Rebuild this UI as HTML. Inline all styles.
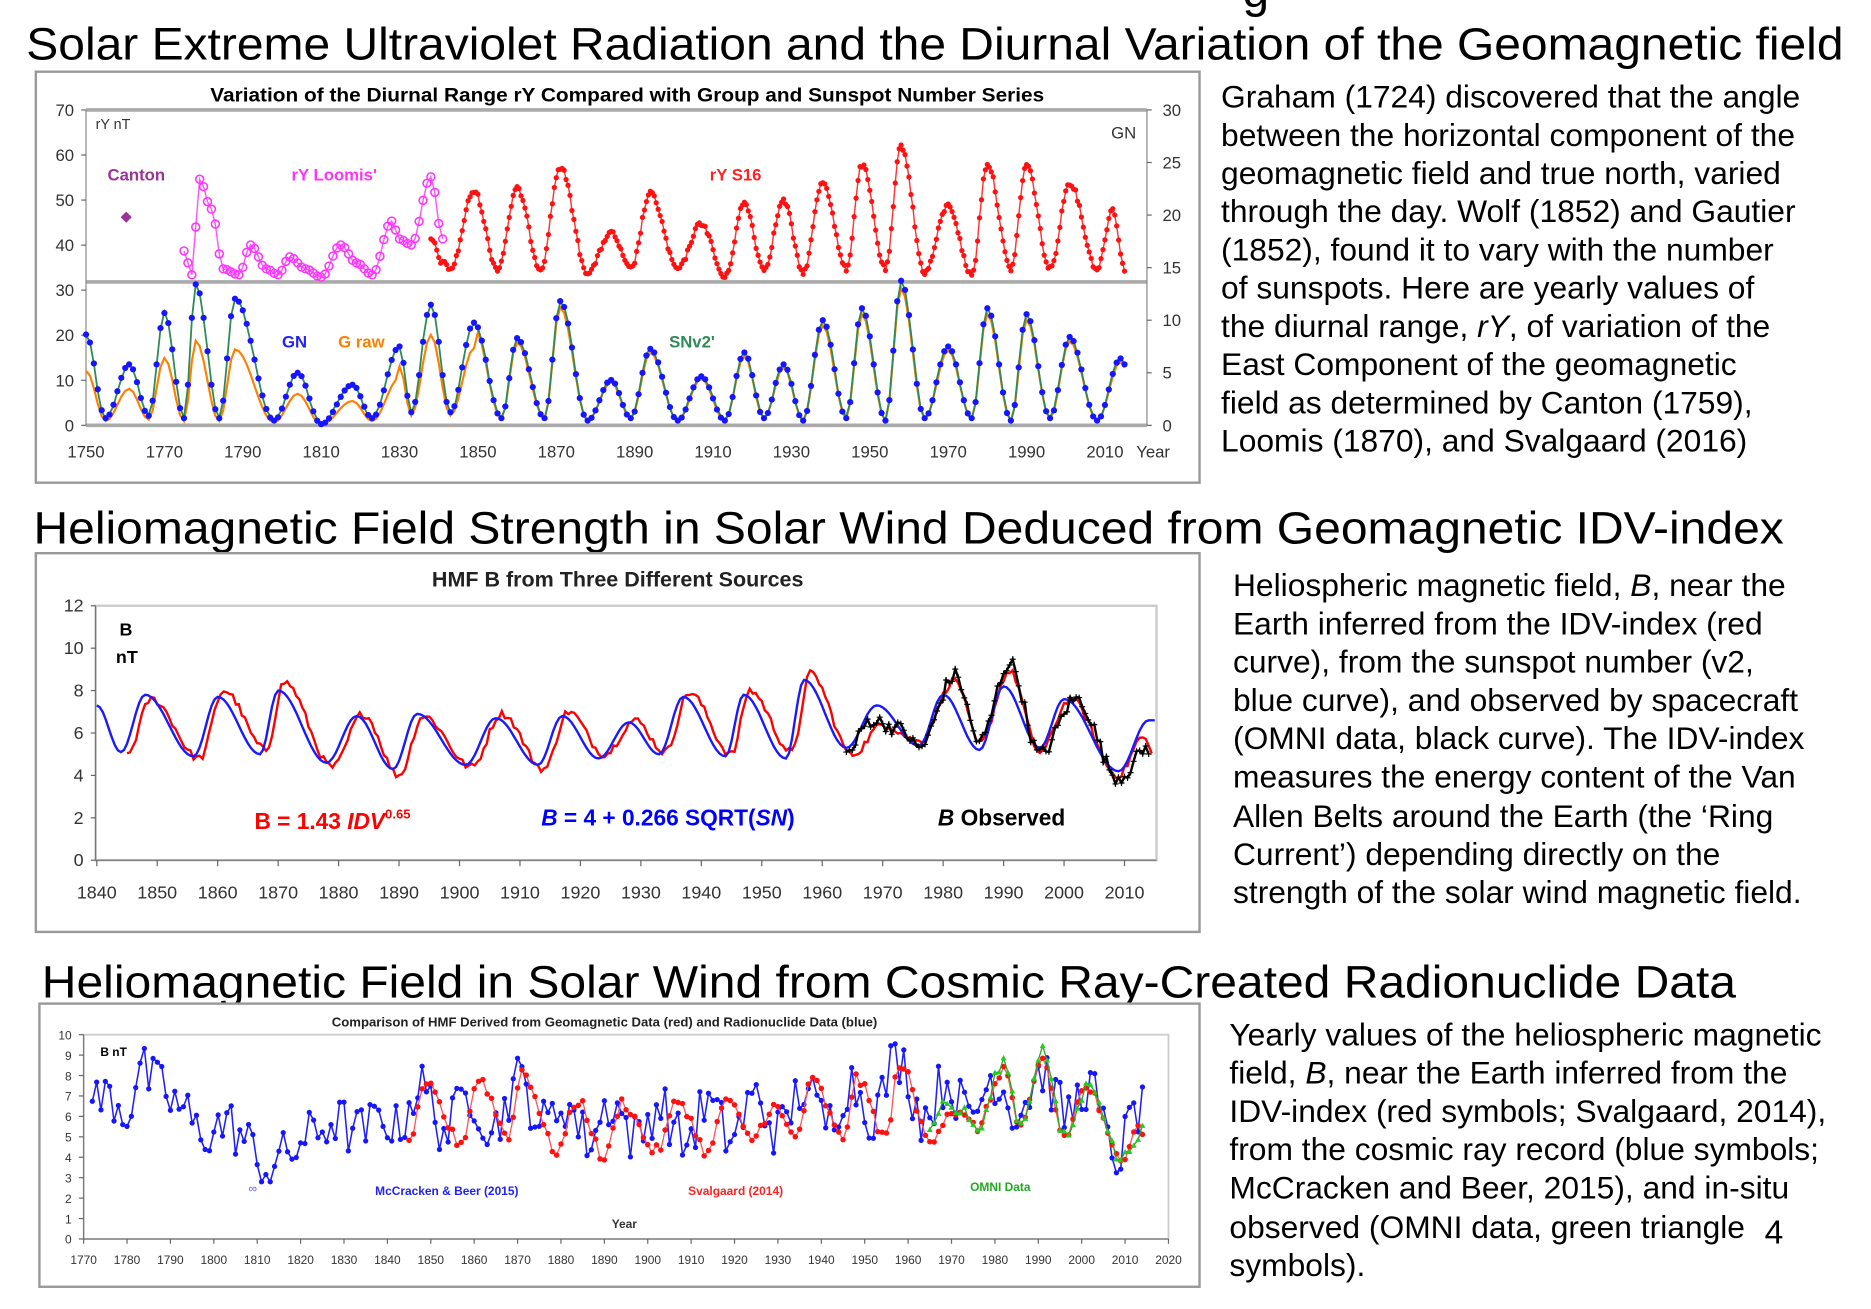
<!DOCTYPE html>
<html><head><meta charset="utf-8">
<style>
html,body{margin:0;padding:0;background:#fff;}
svg{display:block;font-family:"Liberation Sans",Arial,sans-serif;}
</style></head>
<body>
<svg id="s" width="1871" height="1309" viewBox="0 0 1566 1095.6" xmlns="http://www.w3.org/2000/svg">
<rect width="1566" height="1096" fill="#fff"/>
<text x="1040" y="6" font-size="40" fill="#000">g</text>
<text x="22" y="50" font-size="38" textLength="1521" lengthAdjust="spacingAndGlyphs">Solar Extreme Ultraviolet Radiation and the Diurnal Variation of the Geomagnetic field</text>
<text x="28" y="455" font-size="38" textLength="1465" lengthAdjust="spacingAndGlyphs">Heliomagnetic Field Strength in Solar Wind Deduced from Geomagnetic IDV-index</text>
<text x="35" y="835" font-size="38" textLength="1418" lengthAdjust="spacingAndGlyphs">Heliomagnetic Field in Solar Wind from Cosmic Ray-Created Radionuclide Data</text>

<g font-size="26.6" fill="#000">
<text x="1022" y="90">Graham (1724) discovered that the angle</text>
<text x="1022" y="122">between the horizontal component of the</text>
<text x="1022" y="154">geomagnetic field and true north, varied</text>
<text x="1022" y="186">through the day. Wolf (1852) and Gautier</text>
<text x="1022" y="218">(1852), found it to vary with the number</text>
<text x="1022" y="250">of sunspots. Here are yearly values of</text>
<text x="1022" y="282">the diurnal range, <tspan font-style="italic">rY</tspan>, of variation of the</text>
<text x="1022" y="314">East Component of the geomagnetic</text>
<text x="1022" y="346">field as determined by Canton (1759),</text>
<text x="1022" y="378">Loomis (1870), and Svalgaard (2016)</text>

<text x="1032" y="499">Heliospheric magnetic field, <tspan font-style="italic">B</tspan>, near the</text>
<text x="1032" y="531">Earth inferred from the IDV-index (red</text>
<text x="1032" y="563">curve), from the sunspot number (v2,</text>
<text x="1032" y="595">blue curve), and observed by spacecraft</text>
<text x="1032" y="627">(OMNI data, black curve). The IDV-index</text>
<text x="1032" y="659">measures the energy content of the Van</text>
<text x="1032" y="692">Allen Belts around the Earth (the ‘Ring</text>
<text x="1032" y="724">Current’) depending directly on the</text>
<text x="1032" y="756">strength of the solar wind magnetic field.</text>

<text x="1029" y="875">Yearly values of the heliospheric magnetic</text>
<text x="1029" y="907">field, <tspan font-style="italic">B</tspan>, near the Earth inferred from the</text>
<text x="1029" y="939">IDV-index (red symbols; Svalgaard, 2014),</text>
<text x="1029" y="971">from the cosmic ray record (blue symbols;</text>
<text x="1029" y="1003">McCracken and Beer, 2015), and in-situ</text>
<text x="1029" y="1036">observed (OMNI data, green triangle</text>
<text x="1029" y="1068">symbols).</text>
<text x="1477" y="1041" font-size="28">4</text>
</g>

<rect x="30" y="60" width="974" height="344" fill="#fff" stroke="#999" stroke-width="2"/>
<rect x="30" y="463" width="974" height="317" fill="#fff" stroke="#999" stroke-width="2"/>
<rect x="33" y="840" width="971" height="237" fill="#fff" stroke="#999" stroke-width="2"/>

<text x="525" y="85" font-size="16" font-weight="bold" text-anchor="middle" textLength="698" lengthAdjust="spacingAndGlyphs">Variation of the Diurnal Range rY Compared with Group and Sunspot Number Series</text>
<line x1="72" y1="92" x2="960" y2="92" stroke="#aaa" stroke-width="3"/>
<line x1="72" y1="236" x2="960" y2="236" stroke="#aaa" stroke-width="3"/>
<line x1="72" y1="356" x2="960" y2="356" stroke="#aaa" stroke-width="3"/>
<line x1="72" y1="92" x2="72" y2="356" stroke="#888"/>
<line x1="960" y1="92" x2="960" y2="356" stroke="#888"/>
<g id="c1ticks" font-size="14" fill="#333"></g>
<text x="80" y="108" font-size="12" fill="#333">rY nT</text>
<text x="930" y="116" font-size="14" fill="#333">GN</text>
<text x="90" y="151" font-size="14" font-weight="bold" fill="#993399">Canton</text>
<text x="244" y="151" font-size="14" font-weight="bold" fill="#ff33ff">rY Loomis'</text>
<text x="594" y="151" font-size="14" font-weight="bold" fill="#ff2222">rY S16</text>
<text x="236" y="291" font-size="14" font-weight="bold" fill="#2222ff">GN</text>
<text x="283" y="291" font-size="14" font-weight="bold" fill="#ff7f00">G raw</text>
<text x="560" y="291" font-size="14" font-weight="bold" fill="#2e8b57">SNv2'</text>
<text x="951" y="383" font-size="14" fill="#333">Year</text>
<g id="c1"></g>

<text x="517" y="491" font-size="18" font-weight="bold" text-anchor="middle" fill="#222">HMF B from Three Different Sources</text>
<rect x="80" y="507" width="888" height="213" fill="none" stroke="#ccc" stroke-width="2"/>
<line x1="80" y1="507" x2="80" y2="720" stroke="#777"/>
<line x1="80" y1="720" x2="968" y2="720" stroke="#777"/>
<g id="c2ticks" font-size="15" fill="#333"></g>
<text x="100" y="532" font-size="15" font-weight="bold">B</text>
<text x="97" y="555" font-size="15" font-weight="bold">nT</text>
<text x="213" y="694" font-size="19" font-weight="bold" fill="#ff0000">B = 1.43 <tspan font-style="italic">IDV</tspan><tspan font-size="11" dy="-9">0.65</tspan></text>
<text x="453" y="691" font-size="19" font-weight="bold" fill="#0000ff"><tspan font-style="italic">B</tspan> = 4 + 0.266 SQRT(<tspan font-style="italic">SN</tspan>)</text>
<text x="785" y="691" font-size="19" font-weight="bold" fill="#000"><tspan font-style="italic">B</tspan> Observed</text>
<g id="c2"></g>

<text x="506" y="859" font-size="11" font-weight="bold" text-anchor="middle" fill="#222">Comparison of HMF Derived from Geomagnetic Data (red) and Radionuclide Data (blue)</text>
<rect x="70" y="866" width="908" height="171" fill="none" stroke="#ccc" stroke-width="1.5"/>
<line x1="70" y1="866" x2="70" y2="1037" stroke="#777"/>
<line x1="70" y1="1037" x2="978" y2="1037" stroke="#777"/>
<g id="c3ticks" font-size="10" fill="#333"></g>
<text x="84" y="884" font-size="10" font-weight="bold">B nT</text>
<text x="314" y="1000" font-size="10" font-weight="bold" fill="#2222ff">McCracken &amp; Beer (2015)</text>
<text x="576" y="1000" font-size="10" font-weight="bold" fill="#ff2222">Svalgaard (2014)</text>
<text x="812" y="997" font-size="10" font-weight="bold" fill="#22aa22">OMNI Data</text>
<text x="512" y="1028" font-size="10" font-weight="bold" fill="#333">Year</text>
<text x="208" y="998" font-size="10" fill="#66f">∞</text>
<g id="c3"></g>
</svg>
<script>
var NS="http://www.w3.org/2000/svg";
function el(p,t,a,txt){var e=document.createElementNS(NS,t);for(var k in a)e.setAttribute(k,a[k]);if(txt!==undefined)e.textContent=txt;document.getElementById(p).appendChild(e);return e;}
var seed=12345;function rnd(){seed=(seed*1103515245+12345)%2147483648;return seed/2147483648;}
function interp(kn,t){if(t<=kn[0][0])return kn[0][1];for(var i=0;i<kn.length-1;i++){var a=kn[i],b=kn[i+1];if(t>=a[0]&&t<=b[0]){var f=(t-a[0])/(b[0]-a[0]);f=(1-Math.cos(Math.PI*f))/2;return a[1]+(b[1]-a[1])*f;}}return kn[kn.length-1][1];}
function path(pts){return pts.map(function(p,i){return (i?"L":"M")+p[0].toFixed(1)+","+p[1].toFixed(1);}).join("");}

[0,10,20,30,40,50,60,70].forEach(function(v){var y=356-v*3.771;el("c1ticks","text",{x:62,y:y+5,"text-anchor":"end"},v);el("c1ticks","line",{x1:68,y1:y,x2:72,y2:y,stroke:"#666"});});
[0,5,10,15,20,25,30].forEach(function(v){var y=356-v*8.8;el("c1ticks","text",{x:973,y:y+5},v);el("c1ticks","line",{x1:960,y1:y,x2:964,y2:y,stroke:"#666"});});
for(var yr=1750;yr<=2010;yr+=20){var x=72+(yr-1750)*3.28;el("c1ticks","text",{x:x,y:383,"text-anchor":"middle"},yr);}
function X1(y){return 72+(y-1750)*3.28;}
var gn=[[1749,300],[1750,280],[1755,350],[1761,305],[1766,348],[1770,262],[1775,350],[1778,238],[1784,350],[1788,250],[1798,352],[1804,312],[1810,355],[1818,322],[1823,350],[1830,290],[1833,345],[1838,255],[1843,345],[1849,270],[1856,350],[1860,283],[1867,350],[1871,252],[1878,352],[1884,318],[1889,350],[1894,292],[1901,352],[1907,315],[1913,352],[1918,295],[1923,350],[1928,305],[1933,352],[1938,268],[1944,350],[1948,258],[1954,352],[1958,235],[1964,350],[1970,290],[1976,350],[1980,258],[1986,352],[1990,263],[1996,350],[2001,282],[2008,352],[2014,300],[2019,352]];
var og=[],gr=[],bl=[];
for(var y=1750;y<=2015;y++){var v=interp(gn,y);var f=y<1830?0.6:(y<1850?0.75:0.95);og.push([X1(y),356-(356-v)*f]);gr.push([X1(y),v+ (rnd()-0.5)*3]);bl.push([X1(y),v]);}
el("c1","path",{d:path(og),fill:"none",stroke:"#ff7f00","stroke-width":1.8});
el("c1","path",{d:path(gr),fill:"none",stroke:"#2e8b57","stroke-width":1.5});
bl.forEach(function(p){el("c1","circle",{cx:p[0],cy:p[1],r:2.6,fill:"#1515ff"});});
var pk=[[1775,210],[1777,230],[1779,150],[1782,175],[1785,225],[1789,230],[1792,205],[1796,225],[1799,230],[1802,215],[1806,225],[1810,232],[1815,205],[1819,220],[1823,230],[1828,185],[1830,200],[1833,205],[1838,148],[1841,200]];
var pp=[];for(var y=1775;y<=1841;y++)pp.push([X1(y),interp(pk,y)]);
el("c1","path",{d:path(pp),fill:"none",stroke:"#ff55ff","stroke-width":1.2});
pp.forEach(function(p){el("c1","circle",{cx:p[0],cy:p[1],r:3.3,fill:"none",stroke:"#ff33ff","stroke-width":1.3});});
var rk=[[1838,200],[1841,220],[1843,225],[1849,160],[1855,225],[1860,158],[1866,225],[1871,140],[1878,228],[1884,195],[1889,225],[1894,162],[1901,225],[1907,187],[1913,232],[1918,170],[1923,225],[1928,168],[1933,228],[1938,152],[1944,225],[1948,138],[1954,225],[1958,122],[1964,228],[1970,172],[1976,230],[1980,137],[1986,225],[1990,138],[1996,225],[2001,153],[2008,225],[2012,175],[2015,225]];
var rp=[];for(var y=1838;y<=2015;y+=0.5)rp.push([X1(y),interp(rk,y)+(rnd()-0.5)*4]);
el("c1","path",{d:path(rp),fill:"none",stroke:"#ff3333","stroke-width":1.2});
rp.forEach(function(p){el("c1","circle",{cx:p[0],cy:p[1],r:2.2,fill:"#ff1111"});});
el("c1","text",{x:101,y:185,"font-size":12,fill:"#993399"},"◆");

function X2(y){return 81+(y-1840)*5.06;}function Y2(v){return 720-v*17.75;}
[0,2,4,6,8,10,12].forEach(function(v){el("c2ticks","text",{x:70,y:Y2(v)+5,"text-anchor":"end"},v);el("c2ticks","line",{x1:76,y1:Y2(v),x2:80,y2:Y2(v),stroke:"#666"});});
for(var yr=1840;yr<=2010;yr+=10){el("c2ticks","text",{x:X2(yr),y:752,"text-anchor":"middle"},yr);el("c2ticks","line",{x1:X2(yr),y1:720,x2:X2(yr),y2:725,stroke:"#666"});}
var bk=[[1838,7.0],[1840,7.3],[1844,5.1],[1848,7.8],[1856,4.9],[1860,7.7],[1867,5.0],[1870,8.0],[1878,4.6],[1883,6.8],[1889,4.3],[1893,6.9],[1901,4.5],[1906,6.7],[1913,4.5],[1917,6.8],[1923,4.8],[1928,6.5],[1933,5.0],[1937,7.7],[1944,4.9],[1947,7.8],[1954,4.8],[1957,8.5],[1964,5.3],[1969,7.3],[1976,5.4],[1980,7.8],[1986,5.2],[1990,8.2],[1996,5.3],[2000,7.6],[2009,4.2],[2014,6.6],[2016,6.6]];
var rk2=[[1845,5.0],[1849,7.6],[1857,4.8],[1861,8.0],[1868,5.2],[1871,8.4],[1879,4.4],[1884,6.9],[1890,4.0],[1894,6.8],[1902,4.4],[1907,6.9],[1914,4.3],[1918,7.0],[1924,5.0],[1929,6.6],[1934,5.1],[1938,7.9],[1945,5.0],[1948,8.0],[1955,5.1],[1958,8.8],[1965,5.0],[1970,6.4],[1976,5.6],[1982,8.5],[1986,5.5],[1991,8.9],[1996,5.1],[2001,7.6],[2009,4.0],[2013,5.8],[2014.5,5.2]];
var ok=[[1964,5.0],[1968,6.6],[1973,6.2],[1976,5.3],[1982,8.7],[1986,5.6],[1991,9.3],[1996,5.0],[2002,7.6],[2009,3.9],[2014,5.3]];
var p2=[];for(var y=1845;y<=2014.5;y+=0.5)p2.push([X2(y),Y2(interp(rk2,y)+(rnd()-0.5)*0.35)]);
el("c2","path",{d:path(p2),fill:"none",stroke:"#ff0000","stroke-width":2});
var p1=[];for(var y=1840;y<=2015;y+=0.5)p1.push([X2(y),Y2(interp(bk,y))]);
el("c2","path",{d:path(p1),fill:"none",stroke:"#1a1aff","stroke-width":2});
var p3=[];for(var y=1964;y<=2014;y+=0.5)p3.push([X2(y),Y2(interp(ok,y)+(rnd()-0.5)*0.7)]);
el("c2","path",{d:path(p3),fill:"none",stroke:"#000","stroke-width":2});
p3.forEach(function(p){el("c2","path",{d:"M"+(p[0]-2.5)+","+p[1]+"h5M"+p[0]+","+(p[1]-2.5)+"v5",stroke:"#000","stroke-width":1});});

function X3(y){return 70+(y-1770)*3.632;}function Y3(v){return 1037-v*17.1;}
for(var v=0;v<=10;v++){el("c3ticks","text",{x:60,y:Y3(v)+4,"text-anchor":"end"},v);el("c3ticks","line",{x1:66,y1:Y3(v),x2:70,y2:Y3(v),stroke:"#666"});}
for(var yr=1770;yr<=2020;yr+=10){el("c3ticks","text",{x:X3(yr),y:1058,"text-anchor":"middle"},yr);el("c3ticks","line",{x1:X3(yr),y1:1037,x2:X3(yr),y2:1041,stroke:"#666"});}
var base=[[1770,6.5],[1776,7.0],[1780,6.2],[1783,8.3],[1787,7.5],[1792,6.5],[1797,5.2],[1803,5.6],[1808,4.8],[1810,3.5],[1812,3.4],[1816,4.0],[1822,5.0],[1828,5.8],[1833,5.2],[1840,6.0],[1845,6.6],[1855,6.2],[1865,6.3],[1872,7.0],[1880,5.8],[1895,5.8],[1910,5.6],[1925,6.0],[1940,6.6],[1950,6.8],[1957,8.0],[1965,6.8],[1980,7.0],[1991,7.3],[2000,6.8],[2009,4.8],[2014,5.5]];
var bp=[];for(var y=1772;y<=2014;y++){var c=y>1840?0.9*Math.sin(2*Math.PI*(y-1845)/11):0;bp.push([X3(y),Y3(Math.max(2.8,interp(base,y)+c+(rnd()-0.5)*2.6))]);}
el("c3","path",{d:path(bp),fill:"none",stroke:"#2020ff","stroke-width":1.3});
bp.forEach(function(p){el("c3","circle",{cx:p[0],cy:p[1],r:2.2,fill:"#1515ff"});});
var rp3=[];for(var y=1845;y<=2014;y++){var v=interp(rk2,y)+(rnd()-0.5)*0.6;rp3.push([X3(y),Y3(v*0.98)]);}
el("c3","path",{d:path(rp3),fill:"none",stroke:"#ff5555","stroke-width":1.1});
rp3.forEach(function(p){el("c3","circle",{cx:p[0],cy:p[1],r:2.3,fill:"#ff1111"});});
var gp=[];for(var y=1965;y<=2014;y++){gp.push([X3(y),Y3(interp(ok,y)+(rnd()-0.5)*0.6)]);}
el("c3","path",{d:path(gp),fill:"none",stroke:"#22aa22","stroke-width":1.1});
gp.forEach(function(p){el("c3","path",{d:"M"+(p[0]-2.5)+","+(p[1]+2)+"L"+p[0]+","+(p[1]-2.5)+"L"+(p[0]+2.5)+","+(p[1]+2)+"Z",fill:"#22cc22"});});
</script>
</body></html>
